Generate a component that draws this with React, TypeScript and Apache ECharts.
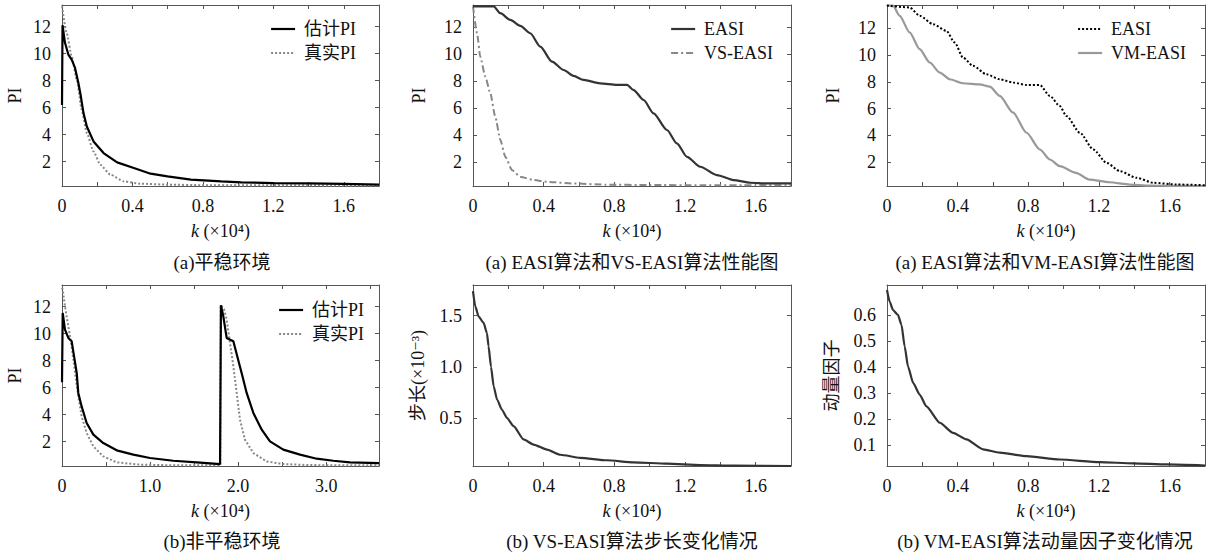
import { useEffect, useRef } from 'react';
import * as echarts from 'echarts';

// ---------------- data (x in units of 10^4 iterations) ----------------
const p1EstX = [0, 0.003, 0.017, 0.036, 0.055, 0.074, 0.093, 0.107, 0.122, 0.141, 0.179, 0.236, 0.313, 0.408, 0.503, 0.599, 0.732, 0.904, 1.018, 1.2, 1.4, 1.6, 1.8];
const p1EstY = [6.2, 12.1, 10.8, 9.93, 9.56, 8.94, 7.83, 6.84, 5.6, 4.61, 3.5, 2.64, 1.95, 1.53, 1.11, 0.91, 0.67, 0.54, 0.47, 0.42, 0.39, 0.36, 0.3];
const p1TrueX = [0, 0.027, 0.055, 0.084, 0.112, 0.141, 0.179, 0.217, 0.275, 0.351, 0.446, 0.6, 0.8, 1.0, 1.2, 1.4, 1.6, 1.8];
const p1TrueY = [13.5, 11.5, 9.8, 8.07, 5.85, 4.12, 2.76, 1.78, 1.04, 0.54, 0.37, 0.3, 0.26, 0.25, 0.25, 0.25, 0.24, 0.24];

const p2EasiX = [0, 0.117, 0.155, 0.211, 0.268, 0.324, 0.381, 0.447, 0.513, 0.569, 0.626, 0.72, 0.815, 0.872, 0.909, 0.966, 1.022, 1.098, 1.154, 1.211, 1.286, 1.381, 1.475, 1.57, 1.664, 1.8];
const p2EasiY = [13.55, 13.55, 13.04, 12.54, 12.1, 11.55, 10.56, 9.44, 8.82, 8.38, 8.08, 7.83, 7.71, 7.71, 7.33, 6.59, 5.6, 4.36, 3.37, 2.37, 1.63, 1.01, 0.64, 0.44, 0.39, 0.39];
const p2VsX = [0, 0.023, 0.041, 0.07, 0.098, 0.126, 0.155, 0.183, 0.221, 0.268, 0.343, 0.419, 0.569, 0.75, 1.0, 1.3, 1.6, 1.8];
const p2VsY = [13.55, 11.55, 9.81, 8.32, 7.09, 5.35, 3.61, 2.37, 1.38, 0.88, 0.64, 0.51, 0.39, 0.3, 0.27, 0.26, 0.25, 0.25];

const p3EasiX = [0, 0.128, 0.185, 0.26, 0.336, 0.383, 0.43, 0.487, 0.563, 0.638, 0.714, 0.79, 0.865, 0.922, 0.978, 1.016, 1.092, 1.168, 1.243, 1.319, 1.413, 1.508, 1.64, 1.8];
const p3EasiY = [13.7, 13.57, 12.94, 12.32, 11.82, 10.95, 9.83, 9.2, 8.57, 8.2, 7.95, 7.77, 7.77, 6.95, 6.2, 5.45, 4.2, 2.95, 1.95, 1.33, 0.83, 0.46, 0.33, 0.28];
const p3VmX = [0, 0.034, 0.072, 0.128, 0.185, 0.242, 0.299, 0.355, 0.43, 0.525, 0.582, 0.638, 0.714, 0.79, 0.865, 0.922, 0.978, 1.07, 1.146, 1.26, 1.374, 1.487, 1.6, 1.8];
const p3VmY = [13.7, 13.7, 12.94, 11.7, 10.45, 9.45, 8.7, 8.2, 7.9, 7.82, 7.65, 6.95, 5.7, 4.2, 2.95, 2.2, 1.7, 1.2, 0.7, 0.5, 0.33, 0.25, 0.23, 0.22];

const p4EstX = [0, 0.008, 0.034, 0.072, 0.11, 0.128, 0.167, 0.185, 0.223, 0.28, 0.356, 0.469, 0.621, 0.81, 0.999, 1.264, 1.53, 1.795, 1.805, 1.832, 1.87, 1.946, 1.99, 2.04, 2.097, 2.173, 2.268, 2.362, 2.513, 2.703, 2.892, 3.081, 3.27, 3.6];
const p4EstY = [6.4, 11.53, 10.3, 9.68, 9.43, 8.69, 7.09, 5.61, 4.61, 3.38, 2.52, 1.9, 1.36, 1.04, 0.79, 0.59, 0.47, 0.34, 12.1, 11.28, 9.68, 9.43, 8.32, 7.09, 5.61, 4.13, 2.89, 2.02, 1.41, 1.04, 0.74, 0.59, 0.47, 0.42];
const p4TrueX = [0, 0.008, 0.034, 0.072, 0.11, 0.148, 0.185, 0.223, 0.28, 0.356, 0.469, 0.621, 0.886, 1.2, 1.5, 1.798, 1.802, 1.84, 1.87, 1.908, 1.946, 1.984, 2.021, 2.078, 2.173, 2.324, 2.5, 2.8, 3.2, 3.6];
const p4TrueY = [13.4, 13.26, 12.02, 10.54, 9.06, 7.09, 5.36, 3.87, 2.64, 1.65, 0.91, 0.47, 0.3, 0.26, 0.25, 0.25, 12.1, 11.8, 11.04, 9.31, 7.58, 5.61, 3.63, 2.15, 1.16, 0.54, 0.35, 0.27, 0.25, 0.25];

const p5StepX = [0, 0.013, 0.032, 0.06, 0.079, 0.088, 0.102, 0.117, 0.136, 0.164, 0.192, 0.23, 0.286, 0.343, 0.419, 0.494, 0.607, 0.758, 0.909, 1.098, 1.286, 1.475, 1.8];
const p5StepY = [1.74, 1.59, 1.49, 1.43, 1.33, 1.2, 1.0, 0.81, 0.68, 0.58, 0.5, 0.42, 0.29, 0.24, 0.19, 0.14, 0.11, 0.086, 0.066, 0.053, 0.04, 0.034, 0.03];

const p6MomX = [0, 0.015, 0.034, 0.062, 0.082, 0.1, 0.119, 0.148, 0.185, 0.223, 0.299, 0.374, 0.45, 0.544, 0.638, 0.79, 0.978, 1.205, 1.394, 1.583, 1.8];
const p6MomY = [0.696, 0.651, 0.619, 0.6, 0.562, 0.479, 0.402, 0.339, 0.294, 0.249, 0.186, 0.147, 0.122, 0.084, 0.071, 0.058, 0.045, 0.035, 0.03, 0.026, 0.022];

// tick values and labels
const xTicksShort = [0.2, 0.4, 0.6, 0.8, 1.0, 1.2, 1.4, 1.6];
const xLabelValsShort = [0, 0.4, 0.8, 1.2, 1.6];
const xLabelTextsShort = ['0', '0.4', '0.8', '1.2', '1.6'];
const xTicksLong = [0.5, 1.0, 1.5, 2.0, 2.5, 3.0, 3.5];
const xLabelValsLong = [0, 1, 2, 3];
const xLabelTextsLong = ['0', '1.0', '2.0', '3.0'];
const yTicksPI = [2, 4, 6, 8, 10, 12];
const yLabelTextsPI = ['2', '4', '6', '8', '10', '12'];
const yTicksStep = [0.5, 1.0, 1.5];
const yLabelTextsStep = ['0.5', '1.0', '1.5'];
const yTicksMom = [0.1, 0.2, 0.3, 0.4, 0.5, 0.6];
const yLabelTextsMom = ['0.1', '0.2', '0.3', '0.4', '0.5', '0.6'];

const captions = [
  '(a)平稳环境',
  '(a) EASI算法和VS-EASI算法性能图',
  '(a) EASI算法和VM-EASI算法性能图',
  '(b)非平稳环境',
  '(b) VS-EASI算法步长变化情况',
  '(b) VM-EASI算法动量因子变化情况',
];

// ---------------- styling / layout ----------------
const FONT = "'Liberation Serif', 'DejaVu Serif', 'Noto Sans CJK SC', serif";
const TXT = '#111';
const FRAME = '#555';

const zip = (xs: number[], ys: number[]) => xs.map((x, i) => [x, ys[i]]);

const mapper = (vals: number[], texts: string[]) => (v: number) => {
  const k = vals.findIndex((t) => Math.abs(t - v) < 1e-9);
  return k >= 0 ? texts[k] : '';
};

type Panel = {
  box: { left: number; top: number; width: number; height: number };
  xMax: number;
  xTicks: number[];
  xLabelVals: number[];
  xLabelTexts: string[];
  yMin: number;
  yMax: number;
  yTicks: number[];
  yLabelTexts: string[];
  yName: string;
  yNameGap: number;
  capX: number;
};

const panels: Panel[] = [
  { box: { left: 62, top: 5, width: 317, height: 181 }, xMax: 1.8, xTicks: xTicksShort, xLabelVals: xLabelValsShort, xLabelTexts: xLabelTextsShort, yMin: 0.2, yMax: 13.6, yTicks: yTicksPI, yLabelTexts: yLabelTextsPI, yName: 'PI', yNameGap: 38, capX: 222 },
  { box: { left: 473, top: 5, width: 318, height: 181 }, xMax: 1.8, xTicks: xTicksShort, xLabelVals: xLabelValsShort, xLabelTexts: xLabelTextsShort, yMin: 0.2, yMax: 13.65, yTicks: yTicksPI, yLabelTexts: yLabelTextsPI, yName: 'PI', yNameGap: 45, capX: 632 },
  { box: { left: 887, top: 5, width: 318, height: 181 }, xMax: 1.8, xTicks: xTicksShort, xLabelVals: xLabelValsShort, xLabelTexts: xLabelTextsShort, yMin: 0.22, yMax: 13.75, yTicks: yTicksPI, yLabelTexts: yLabelTextsPI, yName: 'PI', yNameGap: 45, capX: 1045 },
  { box: { left: 62, top: 285, width: 317, height: 181 }, xMax: 3.6, xTicks: xTicksLong, xLabelVals: xLabelValsLong, xLabelTexts: xLabelTextsLong, yMin: 0.2, yMax: 13.6, yTicks: yTicksPI, yLabelTexts: yLabelTextsPI, yName: 'PI', yNameGap: 38, capX: 222 },
  { box: { left: 473, top: 285, width: 318, height: 181 }, xMax: 1.8, xTicks: xTicksShort, xLabelVals: xLabelValsShort, xLabelTexts: xLabelTextsShort, yMin: 0.03, yMax: 1.8, yTicks: yTicksStep, yLabelTexts: yLabelTextsStep, yName: '步长(×10⁻³)', yNameGap: 46, capX: 632 },
  { box: { left: 887, top: 285, width: 318, height: 181 }, xMax: 1.8, xTicks: xTicksShort, xLabelVals: xLabelValsShort, xLabelTexts: xLabelTextsShort, yMin: 0.02, yMax: 0.715, yTicks: yTicksMom, yLabelTexts: yLabelTextsMom, yName: '动量因子', yNameGap: 46, capX: 1045 },
];

const lbl = { fontSize: 18, fontFamily: FONT, color: TXT };

function buildOption() {
  const grid: any[] = [];
  const xAxis: any[] = [];
  const yAxis: any[] = [];
  const graphic: any[] = [];

  panels.forEach((p, i) => {
    grid.push({ ...p.box, containLabel: false, show: false });
    const tick = { show: true, inside: true, length: 4, lineStyle: { color: FRAME, width: 1 } };
    const line = { show: true, onZero: false, lineStyle: { color: FRAME, width: 1 } };
    const xCommon = { type: 'value', gridIndex: i, min: 0, max: p.xMax, splitLine: { show: false }, axisLine: line };
    xAxis.push({
      ...xCommon,
      position: 'bottom',
      axisTick: { ...tick, customValues: p.xTicks },
      axisLabel: { ...lbl, margin: 11, customValues: p.xLabelVals, formatter: mapper(p.xLabelVals, p.xLabelTexts) },
      name: '{i|k} (×10⁴)',
      nameLocation: 'middle',
      nameGap: 36,
      nameTextStyle: { ...lbl, rich: { i: { ...lbl, fontStyle: 'italic' } } },
    });
    xAxis.push({
      ...xCommon,
      position: 'top',
      axisTick: { ...tick, customValues: p.xTicks },
      axisLabel: { show: false },
    });
    const yCommon = { type: 'value', gridIndex: i, min: p.yMin, max: p.yMax, splitLine: { show: false }, axisLine: line };
    yAxis.push({
      ...yCommon,
      position: 'left',
      axisTick: { ...tick, customValues: p.yTicks },
      axisLabel: { ...lbl, margin: 11, customValues: p.yTicks, formatter: mapper(p.yTicks, p.yLabelTexts) },
      name: p.yName,
      nameLocation: 'middle',
      nameGap: p.yNameGap,
      nameTextStyle: lbl,
    });
    yAxis.push({
      ...yCommon,
      position: 'right',
      axisTick: { ...tick, customValues: p.yTicks },
      axisLabel: { show: false },
    });
    graphic.push({
      type: 'text',
      x: p.capX,
      y: i < 3 ? 262 : 541,
      style: { text: captions[i], fill: TXT, font: `19px ${FONT}`, textAlign: 'center', textVerticalAlign: 'middle' },
    });
  });

  const mk = (name: string, gi: number, data: number[][], ls: any, smooth: number) => ({
    type: 'line',
    name,
    xAxisIndex: 2 * gi,
    yAxisIndex: 2 * gi,
    data,
    symbol: 'none',
    showSymbol: false,
    itemStyle: { color: ls.color },
    lineStyle: ls,
    smooth,
    smoothMonotone: 'x',
    clip: true,
  });

  const sBlack = { color: '#000', width: 2.2, type: 'solid' };
  const sGreyDot = { color: '#888', width: 2, type: [2, 2] };
  const sDark = { color: '#333', width: 2.2, type: 'solid' };
  const sGreyDashDot = { color: '#888', width: 2, type: [7, 3, 2, 3] };
  const sBlackDot = { color: '#000', width: 2, type: [2, 2] };
  const sGrey = { color: '#999', width: 2.2, type: 'solid' };

  const series = [
    mk('真实PI', 0, zip(p1TrueX, p1TrueY), sGreyDot, 0.2),
    mk('估计PI', 0, zip(p1EstX, p1EstY), sBlack, 0),
    mk('VS-EASI', 1, zip(p2VsX, p2VsY), sGreyDashDot, 0.2),
    mk('EASI', 1, zip(p2EasiX, p2EasiY), sDark, 0.25),
    mk('VM-EASI', 2, zip(p3VmX, p3VmY), sGrey, 0.25),
    mk('EASI', 2, zip(p3EasiX, p3EasiY), sBlackDot, 0.25),
    mk('真实PI', 3, zip(p4TrueX, p4TrueY), sGreyDot, 0),
    mk('估计PI', 3, zip(p4EstX, p4EstY), sBlack, 0),
    mk('步长', 4, zip(p5StepX, p5StepY), sDark, 0.2),
    mk('动量因子', 5, zip(p6MomX, p6MomY), sDark, 0.2),
  ];

  const legendBase = {
    orient: 'vertical',
    itemWidth: 24,
    itemHeight: 12,
    itemGap: 6,
    padding: 0,
    selectedMode: false,
    textStyle: { ...lbl, lineHeight: 18, padding: [0, 0, 0, 4] },
  };
  const item = (name: string, ls: any) => ({
    name,
    lineStyle: { ...ls, opacity: 1 },
    itemStyle: { color: 'rgba(0,0,0,0)', borderColor: 'rgba(0,0,0,0)', borderWidth: 0, opacity: 0 },
  });

  const legend = [
    { ...legendBase, left: 270, top: 20, data: [item('估计PI', sBlack), item('真实PI', sGreyDot)] },
    { ...legendBase, left: 670, top: 20, data: [item('EASI', sDark), item('VS-EASI', sGreyDashDot)] },
    { ...legendBase, left: 1077, top: 20, data: [item('EASI', sBlackDot), item('VM-EASI', sGrey)] },
    { ...legendBase, left: 278, top: 301, data: [item('估计PI', sBlack), item('真实PI', sGreyDot)] },
  ];

  return { animation: false, backgroundColor: '#fff', grid, xAxis, yAxis, series, legend, graphic };
}

export default function App() {
  const ref = useRef<HTMLDivElement>(null);
  useEffect(() => {
    const chart = echarts.init(ref.current!, null, { renderer: 'svg' });
    chart.setOption(buildOption() as any);
    return () => chart.dispose();
  }, []);
  return (
    <div
      ref={ref}
      style={{ position: 'fixed', left: 0, top: 0, width: 1207, height: 556, background: '#fff' }}
    />
  );
}
